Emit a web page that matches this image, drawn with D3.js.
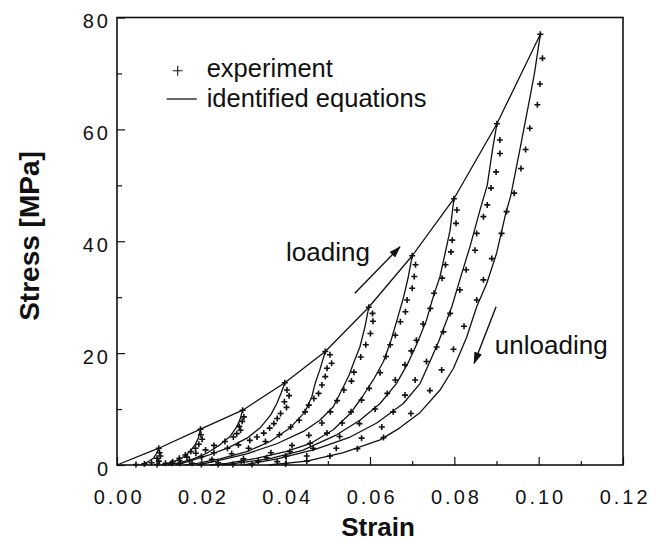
<!DOCTYPE html>
<html lang="en">
<head>
<meta charset="UTF-8">
<title>Stress - Strain</title>
<script src="https://cdn.jsdelivr.net/npm/d3@7"></script>
<style>
  body { margin: 0; background: #fff; }
  svg { display: block; font-family: "Liberation Sans", Arial, sans-serif; }
  .tick text { font-size: 20px; letter-spacing: 3px; fill: #111; }
  .tick line { stroke: #111; stroke-width: 1.2; }
  .model { fill: none; stroke: #111; stroke-width: 1.3; stroke-linejoin: round; }
  .exp { fill: none; stroke: #111; stroke-width: 1.6; }
</style>
</head>
<body>
<script>

// tick values
var xTicks = [0, 0.02, 0.04, 0.06, 0.08, 0.10, 0.12];
var xMinor = [0.01, 0.03, 0.05, 0.07, 0.09, 0.11];
var yTicks = [0, 20, 40, 60, 80];
var yMinor = [10, 30, 50, 70];

// loading envelope [strain, stress MPa]
var envelope = [[0,0],[0.0099,3.0],[0.0198,6.4],[0.0298,9.8],[0.0398,14.7],[0.0494,20.3],
  [0.0597,28.2],[0.0700,37.4],[0.0799,47.6],[0.0901,61.0],[0.1004,77.0]];

// identified equations, unloading branches
var unload01 = [[0.0099,3.0],[0.0094,2.1],[0.0086,1.2],[0.0072,0.5],[0.0055,0]];
var unload02 = [[0.0198,6.4],[0.0193,4.8],[0.0185,3.6],[0.0173,2.4],[0.0155,1.3],[0.0132,0.5],[0.0105,0]];
var unload03 = [[0.0298,9.8],[0.0292,8.2],[0.0284,6.8],[0.0268,5.1],[0.0244,3.6],[0.0213,2.1],[0.0175,0.9],
  [0.0135,0.2],[0.012,0]];
var unload04 = [[0.0398,14.7],[0.0390,13.0],[0.0379,11.0],[0.0365,9.0],[0.0339,6.6],[0.0308,4.8],[0.0265,3.1],
  [0.0215,1.7],[0.0168,0.6],[0.014,0]];
var unload05 = [[0.0494,20.3],[0.0481,17.0],[0.0470,14.6],[0.0462,12.2],[0.0446,9.5],[0.0410,6.6],[0.0363,4.2],
  [0.0308,2.4],[0.0244,1.1],[0.019,0.3],[0.016,0]];
var unload06 = [[0.0597,28.2],[0.0588,24.7],[0.0576,21.1],[0.0564,18.8],[0.0550,16.0],[0.0537,14.0],[0.0513,10.4],
  [0.0481,8.0],[0.0442,6.0],[0.0379,3.8],[0.0308,2.0],[0.0235,0.7],[0.019,0]];
var unload07 = [[0.0700,37.4],[0.0691,33.7],[0.0680,30.1],[0.0664,25.9],[0.0650,22.3],[0.0632,18.5],[0.0610,15.5],
  [0.0582,12.2],[0.0553,9.2],[0.0513,6.3],[0.0458,3.8],[0.0400,2.4],[0.0330,1.2],[0.0260,0.3],[0.022,0]];
var unload08 = [[0.0799,47.6],[0.0790,42.0],[0.0778,37.8],[0.0766,33.7],[0.0750,30.1],[0.0734,25.9],[0.0712,21.8],
  [0.0690,18.2],[0.0663,14.6],[0.0624,11.0],[0.0576,8.0],[0.0521,5.4],[0.0440,2.6],[0.0360,1.1],[0.0280,0.3],[0.025,0]];
var unload09 = [[0.0901,61.0],[0.0891,56.6],[0.0878,50.0],[0.0861,45.6],[0.0837,39.0],[0.0813,33.1],[0.0794,28.3],
  [0.0764,22.3],[0.0744,18.8],[0.0719,14.6],[0.0679,11.0],[0.0616,7.5],[0.0553,5.0],[0.0470,2.8],[0.0380,1.1],[0.0300,0]];
var unload10 = [[0.1004,77.0],[0.0990,70.0],[0.0979,65.6],[0.0956,56.6],[0.0934,48.2],[0.0922,45.0],[0.0900,37.8],
  [0.0877,32.5],[0.0853,28.3],[0.0829,22.8],[0.0798,17.3],[0.0766,13.4],[0.0719,9.4],[0.0670,6.6],[0.0624,4.5],
  [0.0537,2.2],[0.0450,0.7],[0.036,0]];

// experiment points
var exp01 = [[0.0099,3.0],[0.0101,2.2],[0.0103,1.6],[0.0095,1.2],[0.0099,0.7],[0.0082,0.4],[0.0065,0.2],[0.0045,0.1]];
var exp02 = [[0.0198,6.4],[0.0199,5.4],[0.0202,4.6],[0.0194,3.7],[0.0186,3.0],[0.0175,2.4],[0.0162,1.8],[0.0148,1.2],
  [0.0132,0.6],[0.0115,0.3],[0.0095,0.1]];
var exp03 = [[0.0298,9.8],[0.0301,8.6],[0.0297,7.8],[0.0290,6.9],[0.0293,6.2],[0.0284,5.6],[0.0276,5.0],[0.0256,4.2],
  [0.0230,3.5],[0.0210,2.7],[0.0187,2.1],[0.0166,1.4],[0.0148,0.8],[0.0130,0.3]];
var exp04 = [[0.0398,14.7],[0.0403,13.4],[0.0408,12.4],[0.0397,11.3],[0.0402,10.3],[0.0388,9.2],[0.0380,8.3],[0.0372,7.4],
  [0.0362,6.6],[0.0348,5.7],[0.0332,5.0],[0.0315,4.4],[0.0288,3.6],[0.0262,3.0],[0.0230,2.2],[0.0200,1.5],[0.0172,0.8],[0.0150,0.3]];
var exp05 = [[0.0494,20.3],[0.0505,19.7],[0.0509,18.2],[0.0498,17.3],[0.0494,15.8],[0.0486,14.3],[0.0478,12.8],[0.0467,11.9],
  [0.0455,10.7],[0.0446,9.5],[0.0432,8.0],[0.0412,6.8],[0.0385,5.4],[0.0352,4.2],[0.0312,3.0],[0.0272,2.0],[0.0225,1.0],[0.0178,0.3]];
var exp06 = [[0.0597,28.2],[0.0606,27.1],[0.0607,25.7],[0.0601,23.5],[0.0590,21.5],[0.0578,19.3],[0.0562,16.6],[0.0556,15.0],
  [0.0538,13.4],[0.0522,11.5],[0.0506,9.5],[0.0486,7.5],[0.0455,5.3],[0.0415,3.5],[0.0365,2.2],[0.0300,1.1],[0.0240,0.4],[0.0200,0.1]];
var exp07 = [[0.0700,37.4],[0.0708,35.8],[0.0705,33.7],[0.0700,31.6],[0.0688,29.5],[0.0684,27.4],[0.0672,25.6],[0.0660,23.2],
  [0.0648,21.5],[0.0638,19.4],[0.0624,16.5],[0.0598,13.7],[0.0580,11.6],[0.0555,9.5],[0.0534,7.5],[0.0498,5.7],[0.0458,3.9],
  [0.0410,2.4],[0.0355,1.3],[0.0295,0.5],[0.0240,0.1]];
var exp08 = [[0.0799,47.6],[0.0806,45.6],[0.0804,43.2],[0.0795,40.2],[0.0792,38.1],[0.0779,35.8],[0.0771,33.4],[0.0752,30.7],
  [0.0743,28.0],[0.0726,25.2],[0.0710,22.3],[0.0698,20.4],[0.0683,17.9],[0.0660,15.2],[0.0641,12.8],[0.0612,10.0],[0.0575,7.4],
  [0.0528,5.1],[0.0465,3.0],[0.0400,1.6],[0.0335,0.7],[0.0275,0.1]];
var exp09 = [[0.0901,61.0],[0.0908,58.1],[0.0908,55.7],[0.0899,52.4],[0.0887,49.5],[0.0878,46.5],[0.0869,44.4],[0.0853,41.4],
  [0.0849,38.4],[0.0828,34.9],[0.0813,31.3],[0.0790,27.1],[0.0774,23.8],[0.0758,21.1],[0.0734,18.5],[0.0707,15.2],[0.0683,12.5],
  [0.0655,9.5],[0.0628,6.8],[0.0580,4.8],[0.0520,3.0],[0.0450,1.6],[0.0380,0.6],[0.0320,0.1]];
var exp10 = [[0.1004,77.0],[0.1009,72.7],[0.1003,68.1],[0.0997,64.4],[0.0979,60.2],[0.0969,56.4],[0.0958,53.0],[0.0942,48.6],
  [0.0924,45.3],[0.0912,41.4],[0.0889,36.9],[0.0869,33.1],[0.0853,29.5],[0.0823,24.8],[0.0798,20.7],[0.0770,17.0],[0.0742,13.3],
  [0.0697,9.2],[0.0632,4.9],[0.0570,2.9],[0.0505,1.6],[0.0450,0.7],[0.0400,0.2]];

// arrows, in data units
var loadArrow = [[0.0564,30.7],[0.0671,39.0]];
var unloadArrow = [[0.0899,28.3],[0.0847,18.2]];

var models = [envelope, unload01, unload02, unload03, unload04, unload05, unload06, unload07, unload08, unload09, unload10];
var experiments = [].concat(exp01, exp02, exp03, exp04, exp05, exp06, exp07, exp08, exp09, exp10);

// canvas
var margin = {top: 17.5, left: 117};
var w = 506, h = 447.5;

var svg = d3.select("body").append("svg")
    .attr("width", 661)
    .attr("height", 543);

var x = d3.scaleLinear().domain([0, 0.12]).range([0, w]);
var y = d3.scaleLinear().domain([0, 80]).range([h, 0]);

var g = svg.append("g")
    .attr("transform", "translate(" + margin.left + "," + margin.top + ")");

// axes, ticks pointing inward
g.append("g")
    .attr("transform", "translate(0," + h + ")")
    .call(d3.axisBottom(x).tickValues(xMinor).tickSize(-4).tickFormat(""))
    .call(function(a) { a.select(".domain").remove(); });

g.append("g")
    .attr("transform", "translate(0," + h + ")")
    .call(d3.axisBottom(x).tickValues(xTicks).tickSize(-8).tickPadding(25).tickFormat(d3.format(".2f")))
    .call(function(a) { a.select(".domain").remove(); })
    .selectAll("text").attr("dx", "0.08em");

g.append("g")
    .call(d3.axisLeft(y).tickValues(yMinor).tickSize(-5).tickFormat(""))
    .call(function(a) { a.select(".domain").remove(); });

g.append("g")
    .call(d3.axisLeft(y).tickValues(yTicks).tickSize(-8).tickPadding(6))
    .call(function(a) { a.select(".domain").remove(); })
    .selectAll("text").attr("dy", "0.5em");

// frame
g.append("rect")
    .attr("width", w)
    .attr("height", h)
    .attr("fill", "none")
    .attr("stroke", "#111")
    .attr("stroke-width", 1.6);

// model lines
var line = d3.line()
    .x(function(d) { return x(d[0]); })
    .y(function(d) { return y(d[1]); });

g.selectAll(".model")
    .data(models)
    .enter().append("path")
    .attr("class", "model")
    .attr("d", line);

// experiment crosses
g.selectAll(".exp")
    .data(experiments)
    .enter().append("path")
    .attr("class", "exp")
    .attr("transform", function(d) { return "translate(" + x(d[0]) + "," + y(d[1]) + ")"; })
    .attr("d", "M-3,0H3M0,-3V3");

// arrows
svg.append("defs").append("marker")
    .attr("id", "head")
    .attr("viewBox", "0 0 12 8")
    .attr("refX", 11)
    .attr("refY", 4)
    .attr("markerWidth", 12)
    .attr("markerHeight", 8)
    .attr("markerUnits", "userSpaceOnUse")
    .attr("orient", "auto")
    .append("path")
    .attr("d", "M0,0L12,4L0,8Z")
    .attr("fill", "#111");

[loadArrow, unloadArrow].forEach(function(a) {
  g.append("path")
      .attr("d", line(a))
      .attr("stroke", "#111")
      .attr("stroke-width", 1.4)
      .attr("marker-end", "url(#head)");
});

// annotations
g.append("text")
    .attr("x", x(0.0401))
    .attr("y", y(36.4))
    .attr("font-size", 26)
    .attr("fill", "#111")
    .text("loading");

g.append("text")
    .attr("x", x(0.0896))
    .attr("y", y(19.8))
    .attr("font-size", 26)
    .attr("fill", "#111")
    .text("unloading");

// legend
svg.append("path")
    .attr("transform", "translate(177.7,70.7)")
    .attr("d", "M-5,0H5M0,-5V5")
    .attr("stroke", "#111")
    .attr("stroke-width", 1.1);
svg.append("text")
    .attr("x", 206.7)
    .attr("y", 77.3)
    .attr("font-size", 25.5)
    .attr("fill", "#111")
    .text("experiment");
svg.append("line")
    .attr("x1", 166.7).attr("x2", 196.7)
    .attr("y1", 99).attr("y2", 99)
    .attr("stroke", "#111")
    .attr("stroke-width", 1.3);
svg.append("text")
    .attr("x", 206.7)
    .attr("y", 107.3)
    .attr("font-size", 25.5)
    .attr("fill", "#111")
    .text("identified equations");

// axis titles
svg.append("text")
    .attr("transform", "translate(39,236) rotate(-90)")
    .attr("text-anchor", "middle")
    .attr("font-size", 28)
    .attr("font-weight", "bold")
    .attr("fill", "#111")
    .text("Stress [MPa]");

svg.append("text")
    .attr("x", 378)
    .attr("y", 536)
    .attr("text-anchor", "middle")
    .attr("font-size", 26)
    .attr("font-weight", "bold")
    .attr("fill", "#111")
    .text("Strain");

</script>
</body>
</html>
